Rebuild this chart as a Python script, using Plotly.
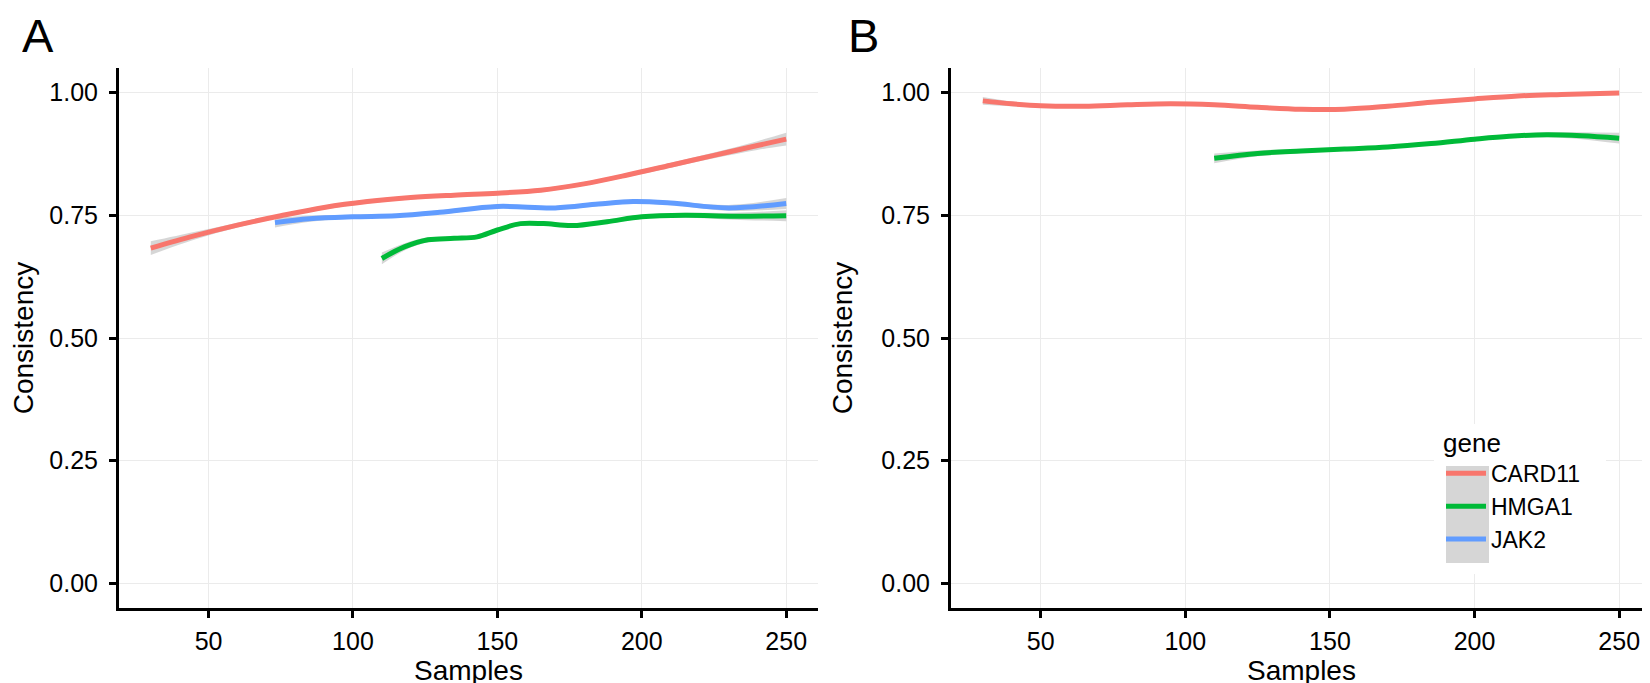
import plotly.graph_objects as go

# ---------------- data ----------------
x_ticks = [50, 100, 150, 200, 250]
y_ticks = [0.0, 0.25, 0.5, 0.75, 1.0]
y_tick_text = ["0.00", "0.25", "0.50", "0.75", "1.00"]
genes = ["CARD11", "HMGA1", "JAK2"]
gene_colors = ["#F8766D", "#00BA38", "#619CFF"]

# Panel A
a_card11_x = [30, 45, 60, 75, 90, 105, 120, 135, 150, 165, 180, 195, 210, 225, 240, 250]
a_card11_y = [0.683, 0.708, 0.730, 0.749, 0.766, 0.778, 0.786, 0.791, 0.795, 0.801, 0.814, 0.832, 0.852, 0.872, 0.892, 0.905]
a_card11_se = [0.014, 0.008, 0.005, 0.004, 0.004, 0.004, 0.004, 0.004, 0.004, 0.004, 0.004, 0.004, 0.005, 0.006, 0.009, 0.013]

a_hmga1_x = [110, 118, 126, 135, 143, 150, 158, 166, 176, 188, 200, 215, 232, 250]
a_hmga1_y = [0.662, 0.686, 0.700, 0.703, 0.706, 0.720, 0.733, 0.733, 0.729, 0.737, 0.747, 0.750, 0.748, 0.749]
a_hmga1_se = [0.012, 0.007, 0.005, 0.004, 0.004, 0.004, 0.004, 0.004, 0.004, 0.004, 0.004, 0.005, 0.007, 0.011]

a_jak2_x = [73, 85, 100, 115, 130, 150, 170, 185, 197, 210, 230, 250]
a_jak2_y = [0.735, 0.743, 0.747, 0.749, 0.756, 0.768, 0.765, 0.773, 0.778, 0.775, 0.765, 0.774]
a_jak2_se = [0.010, 0.006, 0.004, 0.004, 0.004, 0.004, 0.004, 0.004, 0.004, 0.004, 0.006, 0.011]

# Panel B
b_card11_x = [30, 40, 50, 65, 80, 95, 110, 125, 140, 155, 170, 185, 200, 215, 230, 250]
b_card11_y = [0.983, 0.977, 0.973, 0.972, 0.975, 0.977, 0.975, 0.970, 0.966, 0.966, 0.972, 0.980, 0.987, 0.993, 0.996, 0.999]
b_card11_se = [0.008, 0.005, 0.003, 0.003, 0.003, 0.003, 0.003, 0.003, 0.003, 0.003, 0.003, 0.003, 0.003, 0.003, 0.003, 0.004]

b_hmga1_x = [110, 125, 140, 155, 170, 185, 200, 212, 225, 237, 250]
b_hmga1_y = [0.866, 0.876, 0.881, 0.885, 0.889, 0.896, 0.905, 0.911, 0.914, 0.912, 0.907]
b_hmga1_se = [0.010, 0.006, 0.004, 0.003, 0.003, 0.003, 0.003, 0.004, 0.005, 0.007, 0.011]

# (panel x-axis, y-axis, gene, x, y, se, shown in legend)
series = [
    ("x", "y", "CARD11", a_card11_x, a_card11_y, a_card11_se, False),
    ("x", "y", "HMGA1", a_hmga1_x, a_hmga1_y, a_hmga1_se, False),
    ("x", "y", "JAK2", a_jak2_x, a_jak2_y, a_jak2_se, True),
    ("x2", "y2", "CARD11", b_card11_x, b_card11_y, b_card11_se, True),
    ("x2", "y2", "HMGA1", b_hmga1_x, b_hmga1_y, b_hmga1_se, True),
]

FONT = "Liberation Sans, Arial, sans-serif"
RIBBON = "rgba(153,153,153,0.4)"

fig = go.Figure()

# confidence ribbons
for xa, ya, g, xs, ys, se, _ in series:
    lo = [v - s for v, s in zip(ys, se)]
    hi = [v + s for v, s in zip(ys, se)]
    fig.add_trace(go.Scatter(x=xs, y=lo, xaxis=xa, yaxis=ya, mode="lines",
                             line=dict(width=0, shape="spline"), showlegend=False,
                             hoverinfo="skip"))
    fig.add_trace(go.Scatter(x=xs, y=hi, xaxis=xa, yaxis=ya, mode="lines",
                             line=dict(width=0, shape="spline"), fill="tonexty",
                             fillcolor=RIBBON, showlegend=False, hoverinfo="skip"))

# smooth lines
for xa, ya, g, xs, ys, se, show in series:
    idx = genes.index(g)
    fig.add_trace(go.Scatter(x=xs, y=ys, xaxis=xa, yaxis=ya, mode="lines", name=g,
                             line=dict(color=gene_colors[idx], width=5, shape="spline", smoothing=1),
                             showlegend=show, legendrank=idx + 1))

W, H = 1650, 683
ML, MR, MT, MB = 111, 7, 60, 83
PW = W - ML - MR
PH = H - MT - MB


def px_x(p):
    return (p - ML) / PW


def px_y(p):
    return 1 - (p - MT) / PH


axis_common = dict(
    showline=True, linecolor="black", linewidth=3,
    ticks="outside", ticklen=7, tickwidth=3, tickcolor="black",
    showgrid=True, gridcolor="#EBEBEB", gridwidth=1.2, zeroline=False,
    tickfont=dict(family=FONT, size=25, color="black"),
)

title_font = dict(family=FONT, size=28, color="black")

xa_common = dict(axis_common, range=[19, 261], tickvals=x_ticks, ticklabelstandoff=2)
ya_common = dict(axis_common, range=[-0.05, 1.05], tickvals=y_ticks, ticktext=y_tick_text,
                 ticklabelstandoff=6)

xa_dom = [0, px_x(810)]
xb_dom = [px_x(943), 1]

fig.update_layout(
    width=W, height=H,
    margin=dict(l=ML, r=MR, t=MT, b=MB),
    paper_bgcolor="white", plot_bgcolor="white",
    font=dict(family=FONT, color="black"),
    xaxis=dict(xa_common, domain=xa_dom, anchor="y"),
    yaxis=dict(ya_common, domain=[0, 1], anchor="x",
               title=dict(text="Consistency", font=title_font, standoff=14)),
    xaxis2=dict(xa_common, domain=xb_dom, anchor="y2"),
    yaxis2=dict(ya_common, domain=[0, 1], anchor="x2",
                title=dict(text="Consistency", font=title_font, standoff=21)),
    legend=dict(
        x=px_x(1433), y=px_y(410), xanchor="left", yanchor="top",
        bgcolor="rgba(0,0,0,0)", borderwidth=0,
        font=dict(family=FONT, size=23, color="black"),
        title=dict(text="gene", font=dict(family=FONT, size=26, color="black")),
        itemwidth=40, traceorder="normal",
    ),
    shapes=[
        # legend background
        dict(type="rect", xref="paper", yref="paper", layer="above",
             x0=px_x(1426), x1=px_x(1598), y0=px_y(566), y1=px_y(416),
             fillcolor="white", line=dict(width=0)),
        # key background (standard-error fill)
        dict(type="rect", xref="paper", yref="paper", layer="above",
             x0=px_x(1438), x1=px_x(1481), y0=px_y(555), y1=px_y(458),
             fillcolor="#D6D6D6", line=dict(width=0)),
    ],
    annotations=[
        # panel tags
        dict(text="A", xref="paper", yref="paper", x=px_x(30), y=px_y(27),
             xanchor="center", yanchor="middle", showarrow=False, height=50,
             valign="middle", font=dict(family=FONT, size=47, color="black")),
        dict(text="B", xref="paper", yref="paper", x=px_x(855), y=px_y(27),
             xanchor="center", yanchor="middle", showarrow=False, height=50,
             valign="middle", font=dict(family=FONT, size=47, color="black")),
        # x-axis titles
        dict(text="Samples", xref="paper", yref="paper", x=sum(xa_dom) / 2, y=px_y(662),
             xanchor="center", yanchor="middle", showarrow=False, font=title_font),
        dict(text="Samples", xref="paper", yref="paper", x=sum(xb_dom) / 2, y=px_y(662),
             xanchor="center", yanchor="middle", showarrow=False, font=title_font),
    ],
)

fig.write_html("out.html")
